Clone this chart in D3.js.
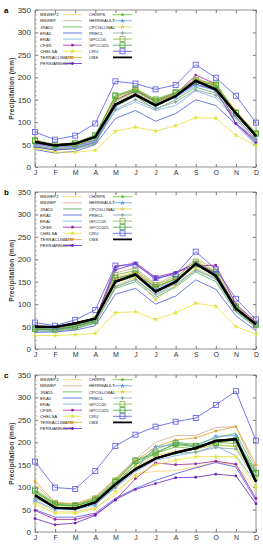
<!DOCTYPE html>
<html><head><meta charset="utf-8">
<script src="https://cdn.jsdelivr.net/npm/d3@7"></script>
<style>body{margin:0;background:#fff}svg{display:block}</style>
</head><body>
<script>
const months = ["J","F","M","A","M","J","J","A","S","O","N","D"];
const yTicks = [0,50,100,150,200,250,300,350];
const panelLabels = ["a","b","c"];
const seriesNames = ["MSWEP2","MSWEP","JRA55","ERA5","ERAI","CFSR","CHELSA","TERRACLIMATE","PERSIANNCDR",
  "CHIRPS","HERREAULT","CPCGLOBAL","PRECL","GPCC05","GPCC025","CRU","OBS"];
const seriesColors = ["#f2cf6a","#d2aa92","#4fae4f","#4a55d6","#78aee6","#a2209e","#e3e23c","#e0a22c","#6424c4",
  "#62c230","#5e9ff0","#e0cf58","#86a4a4","#82b444","#3ea23e","#5656e2","#000000"];
const seriesMarkers = ["none","none","none","none","none","dot","star","dot","dot",
  "dot","star","star","plus","square","square","square","none"];

const valuesA = [
  [50,42,46,58,150,170,145,160,195,178,118,68],
  [55,46,50,62,145,165,142,162,200,180,115,70],
  [44,38,40,52,135,158,128,150,178,165,110,62],
  [39,31,35,50,108,126,102,119,150,137,95,50],
  [48,40,44,56,125,145,126,137,170,154,107,54],
  [52,45,47,60,150,170,146,162,205,185,97,60],
  [42,33,33,37,80,89,80,92,110,109,71,48],
  [60,50,52,70,155,172,148,163,196,182,125,75],
  [45,38,42,55,140,162,140,158,185,170,97,55],
  [56,46,48,62,148,168,145,160,190,178,120,72],
  [50,44,46,58,135,160,138,155,182,172,118,68],
  [58,48,52,68,155,175,150,165,192,185,125,76],
  [47,40,43,54,128,150,130,145,172,160,112,60],
  [60,50,54,72,160,175,151,167,194,186,122,76],
  [58,48,52,70,158,172,148,165,190,183,120,74],
  [78,61,70,97,191,186,173,183,228,199,159,99],
  [56,48,52,67,139,161,137,158,192,173,120,69]
];
const valuesB = [
  [46,45,52,66,160,172,140,158,198,175,95,58],
  [50,48,55,70,170,180,145,165,200,180,98,60],
  [40,40,45,58,135,150,115,138,172,150,82,48],
  [37,38,42,52,122,135,100,118,154,133,74,41],
  [42,42,47,60,140,155,120,140,178,155,85,50],
  [48,46,52,65,183,192,160,171,185,187,100,60],
  [30,30,32,35,81,83,66,81,102,95,50,33],
  [48,46,52,66,155,170,140,155,190,170,92,55],
  [45,44,50,62,176,190,155,170,192,170,95,55],
  [45,44,50,62,148,162,130,150,185,165,90,52],
  [47,45,52,64,150,165,135,152,188,168,92,54],
  [44,42,48,60,140,160,110,142,180,160,88,50],
  [43,42,47,58,138,155,122,145,175,158,86,50],
  [46,44,52,66,165,175,143,160,195,172,95,57],
  [44,43,50,62,158,168,138,156,190,168,92,54],
  [59,52,65,87,186,188,158,166,217,178,112,66],
  [50,49,57,68,150,166,128,150,190,163,90,55]
];
const valuesC = [
  [68,45,45,55,82,130,135,137,145,156,150,90],
  [105,65,62,75,120,162,200,215,215,233,235,140],
  [88,60,58,70,110,150,185,200,195,210,220,135],
  [50,33,33,42,75,97,115,130,143,155,145,70],
  [78,55,53,62,98,135,160,170,178,192,170,110],
  [48,28,28,39,71,119,154,150,152,158,151,75],
  [62,42,42,52,90,125,150,160,168,168,168,100],
  [113,66,63,78,118,158,190,205,210,225,235,150],
  [30,16,20,37,72,95,108,121,122,129,125,63],
  [90,62,58,72,108,150,175,190,185,195,190,125],
  [70,50,50,60,100,140,190,195,190,213,215,120],
  [85,58,55,68,105,145,170,180,185,195,190,120],
  [75,55,52,65,100,140,165,175,178,188,185,115],
  [95,65,60,75,115,160,178,195,190,200,197,130],
  [92,62,58,72,112,158,175,198,192,198,205,132],
  [157,99,96,136,192,217,235,246,254,283,314,204],
  [82,54,52,66,106,140,164,177,187,203,207,112]
];
const panelValues = [valuesA, valuesB, valuesC];

const W = 263, H = 550;
const svg = d3.select("body").append("svg").attr("width", W).attr("height", H);
const x = d3.scalePoint().domain(d3.range(12)).range([35, 256]);
const panelTops = [10, 192, 375];
const plotH = 157;

panelValues.forEach((vals, p) => {
  const top = panelTops[p];
  const y = d3.scaleLinear().domain([0, 350]).range([top + plotH, top]);
  const g = svg.append("g");

  g.append("text").attr("x", 4).attr("y", top + 3).attr("font-family", "Liberation Sans, Arial, sans-serif")
    .attr("font-size", 8).attr("font-weight", "bold").text(panelLabels[p]);

  // frame
  g.append("rect").attr("x", 35).attr("y", top).attr("width", 221).attr("height", plotH)
    .attr("fill", "none").attr("stroke", "#777").attr("stroke-width", 0.8);

  // y axis
  const yAxis = d3.axisLeft(y).tickValues(yTicks).tickSize(-3).tickPadding(4);
  const ya = g.append("g").attr("transform", "translate(35,0)").call(yAxis);
  ya.select(".domain").remove();
  ya.selectAll("line").attr("stroke", "#777");
  ya.selectAll("text").attr("font-family", "Liberation Sans, Arial, sans-serif").attr("font-size", 8).attr("fill", "#333");
  const yMinor = d3.axisLeft(y).tickValues(d3.range(0, 351, 10)).tickSize(-1.5).tickFormat("");
  const ym = g.append("g").attr("transform", "translate(35,0)").call(yMinor);
  ym.select(".domain").remove(); ym.selectAll("line").attr("stroke", "#999");
  const yR = d3.axisRight(y).tickValues(yTicks).tickSize(-3).tickFormat("");
  const yr = g.append("g").attr("transform", "translate(256,0)").call(yR);
  yr.select(".domain").remove(); yr.selectAll("line").attr("stroke", "#777");

  // x axis
  const xAxis = d3.axisBottom(x).tickSize(-3).tickPadding(3).tickFormat(i => months[i]);
  const xa = g.append("g").attr("transform", `translate(0,${top + plotH})`).call(xAxis);
  xa.select(".domain").remove();
  xa.selectAll("line").attr("stroke", "#777");
  xa.selectAll("text").attr("font-family", "Liberation Sans, Arial, sans-serif").attr("font-size", 7).attr("fill", "#333");
  const xT = d3.axisTop(x).tickSize(-3).tickFormat("");
  const xt = g.append("g").attr("transform", `translate(0,${top})`).call(xT);
  xt.select(".domain").remove(); xt.selectAll("line").attr("stroke", "#777");

  // y label
  g.append("text").attr("transform", `translate(14,${top + plotH / 2}) rotate(-90)`)
    .attr("text-anchor", "middle").attr("font-family", "Liberation Sans, Arial, sans-serif")
    .attr("font-size", 6.5).attr("font-weight", "bold").attr("fill", "#333").attr("letter-spacing", 0.3)
    .text("Precipitation  (mm)");

  const line = d3.line().x((d, i) => x(i)).y(d => y(d));
  const drawMarker = (sel, type, color, cx, cy) => {
    if (type === "dot") sel.append("circle").attr("cx", cx).attr("cy", cy).attr("r", 1.4).attr("fill", color);
    else if (type === "square") sel.append("rect").attr("x", cx - 2.5).attr("y", cy - 2.5).attr("width", 5).attr("height", 5)
      .attr("fill", "none").attr("stroke", color).attr("stroke-width", 0.8);
    else if (type === "star") sel.append("path").attr("d", d3.symbol(d3.symbolStar, 9)()).attr("transform", `translate(${cx},${cy})`).attr("fill", color);
    else if (type === "plus") sel.append("path").attr("d", d3.symbol(d3.symbolCross, 7)()).attr("transform", `translate(${cx},${cy})`).attr("fill", color);
  };

  vals.forEach((s, k) => {
    const isObs = seriesNames[k] === "OBS";
    g.append("path").datum(s).attr("d", line).attr("fill", "none")
      .attr("stroke", seriesColors[k]).attr("stroke-width", isObs ? 2.2 : 0.8);
    if (seriesMarkers[k] !== "none") s.forEach((v, i) => drawMarker(g, seriesMarkers[k], seriesColors[k], x(i), y(v)));
  });
  // redraw OBS on top
  const oi = seriesNames.indexOf("OBS");
  g.append("path").datum(vals[oi]).attr("d", line).attr("fill", "none").attr("stroke", "#000").attr("stroke-width", 2.2);

  // legend
  seriesNames.forEach((n, k) => {
    const col = k < 9 ? 0 : 1;
    const row = k < 9 ? k : k - 9;
    const ly = top + 4.7 + row * 6.1;
    const tx = col === 0 ? 40 : 89;
    const lx0 = col === 0 ? 63 : 113, lx1 = lx0 + 19;
    g.append("text").attr("x", tx).attr("y", ly + 1.6).attr("font-family", "Liberation Sans, Arial, sans-serif")
      .attr("font-size", 4.3).attr("fill", "#222").text(n);
    g.append("line").attr("x1", lx0).attr("x2", lx1).attr("y1", ly).attr("y2", ly)
      .attr("stroke", seriesColors[k]).attr("stroke-width", n === "OBS" ? 1.8 : 0.8);
    if (seriesMarkers[k] !== "none") drawMarker(g, seriesMarkers[k], seriesColors[k], (lx0 + lx1) / 2, ly);
  });
});
</script>
</body></html>
